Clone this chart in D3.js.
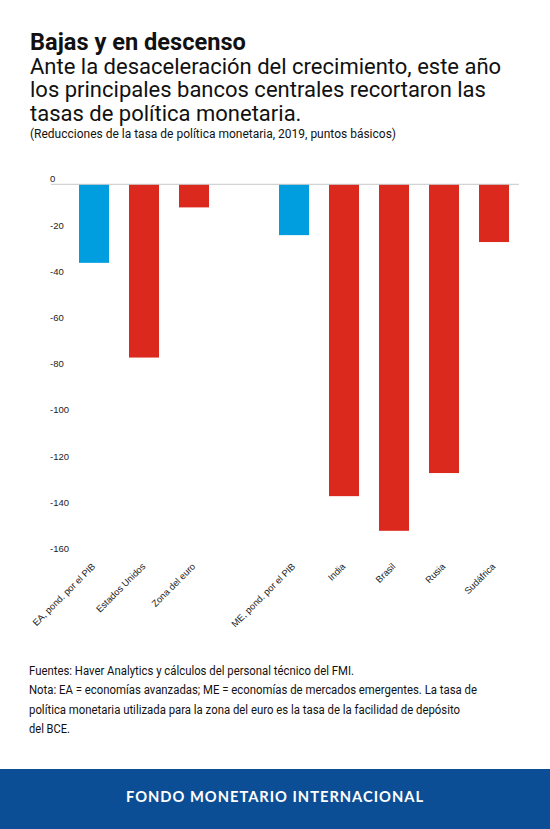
<!DOCTYPE html>
<html>
<head>
<meta charset="utf-8">
<script src="https://cdn.jsdelivr.net/npm/d3@7"></script>
<style>
  body { margin: 0; background: #fff; }
  svg { display: block; }
</style>
</head>
<body>
<svg id="chart" width="550" height="829"></svg>
<script>
// categories (blank slot separates advanced from emerging economies)
const categories = [
  "EA, pond. por el PIB", "Estados Unidos", "Zona del euro", "",
  "ME, pond. por el PIB", "India", "Brasil", "Rusia", "Sudáfrica",
];
const values = [-34, -75, -10, null, -22, -135, -150, -125, -25];
const groupType = ["avg", "country", "country", null, "avg", "country", "country", "country", "country"];
const yTicks = [0, -20, -40, -60, -80, -100, -120, -140, -160];

const titleText = "Bajas y en descenso";
const subtitleLines = [
  "Ante la desaceleración del crecimiento, este año",
  "los principales bancos centrales recortaron las",
  "tasas de política monetaria.",
];
const unitText = "(Reducciones de la tasa de política monetaria, 2019, puntos básicos)";
const noteLines = [
  "Fuentes: Haver Analytics y cálculos del personal técnico del FMI.",
  "Nota: EA = economías avanzadas; ME = economías de mercados emergentes. La tasa de",
  "política monetaria utilizada para la zona del euro es la tasa de la facilidad de depósito",
  "del BCE.",
];
const noteWidths = [325, 448, 431, 41];
const footerText = "FONDO MONETARIO INTERNACIONAL";

const colors = { avg: "#009ede", country: "#db291d" };

const svg = d3.select("#chart");

// header
svg.append("text")
  .attr("x", 30).attr("y", 49.5)
  .attr("font-family", "Roboto").attr("font-weight", 700).attr("font-size", "23.6px")
  .attr("fill", "#111")
  .text(titleText);

subtitleLines.forEach((line, i) => {
  svg.append("text")
    .attr("x", 30).attr("y", 73.5 + i * 23.5)
    .attr("font-family", "Roboto").attr("font-size", "22px")
    .attr("fill", "#111")
    .text(line);
});

svg.append("text")
  .attr("x", 30).attr("y", 138)
  .attr("font-family", "Roboto").attr("font-size", "12px")
  .attr("fill", "#111")
  .attr("textLength", 366).attr("lengthAdjust", "spacingAndGlyphs")
  .text(unitText);

// chart
const x = d3.scaleBand()
  .domain(d3.range(categories.length))
  .range([69, 519])
  .paddingInner(0.4)
  .paddingOuter(0.2);

const y = d3.scaleLinear()
  .domain([0, -160])
  .range([184.3, 184.3 + 160 * 2.31]);

const g = svg.append("g");

g.selectAll(".ytick")
  .data(yTicks)
  .join("text")
  .attr("class", "ytick")
  .attr("x", 50)
  .attr("y", (d) => y(d) - 2)
  .attr("font-family", "Liberation Sans, Arial, sans-serif")
  .attr("font-size", "9.5px")
  .attr("fill", "#222")
  .text((d) => d);

const bars = categories.map((c, i) => ({ i, c, v: values[i], t: groupType[i] }))
  .filter((d) => d.v !== null);

g.selectAll(".bar")
  .data(bars)
  .join("rect")
  .attr("class", "bar")
  .attr("x", (d) => x(d.i))
  .attr("width", x.bandwidth())
  .attr("y", y(0))
  .attr("height", (d) => y(d.v) - y(0))
  .attr("fill", (d) => colors[d.t]);

g.append("line")
  .attr("x1", 51).attr("x2", 519)
  .attr("y1", y(0)).attr("y2", y(0))
  .attr("stroke", "#c8c8c8").attr("stroke-width", 1);

g.selectAll(".xlab")
  .data(categories.map((c, i) => ({ c, i })).filter((d) => d.c))
  .join("text")
  .attr("class", "xlab")
  .attr("text-anchor", "end")
  .attr("transform", (d) => `translate(${x(d.i) + x.bandwidth() / 2 + 2},${567}) rotate(-45)`)
  .attr("font-family", "Liberation Sans, Arial, sans-serif")
  .attr("font-size", "9.3px")
  .attr("fill", "#222")
  .text((d) => d.c);

// notes
noteLines.forEach((line, i) => {
  svg.append("text")
    .attr("x", 29).attr("y", 675 + i * 19.3)
    .attr("font-family", "Roboto").attr("font-size", "12px")
    .attr("fill", "#111")
    .attr("textLength", noteWidths[i]).attr("lengthAdjust", "spacingAndGlyphs")
    .text(line);
});

// footer band
svg.append("rect")
  .attr("x", 0).attr("y", 769).attr("width", 550).attr("height", 60)
  .attr("fill", "#0b4e95");

svg.append("text")
  .attr("x", 275).attr("y", 802)
  .attr("text-anchor", "middle")
  .attr("font-family", "Lato").attr("font-weight", 700).attr("font-size", "15px")
  .attr("letter-spacing", "1px")
  .attr("fill", "#fff")
  .attr("textLength", 298).attr("lengthAdjust", "spacingAndGlyphs")
  .text(footerText);
</script>
</body>
</html>
